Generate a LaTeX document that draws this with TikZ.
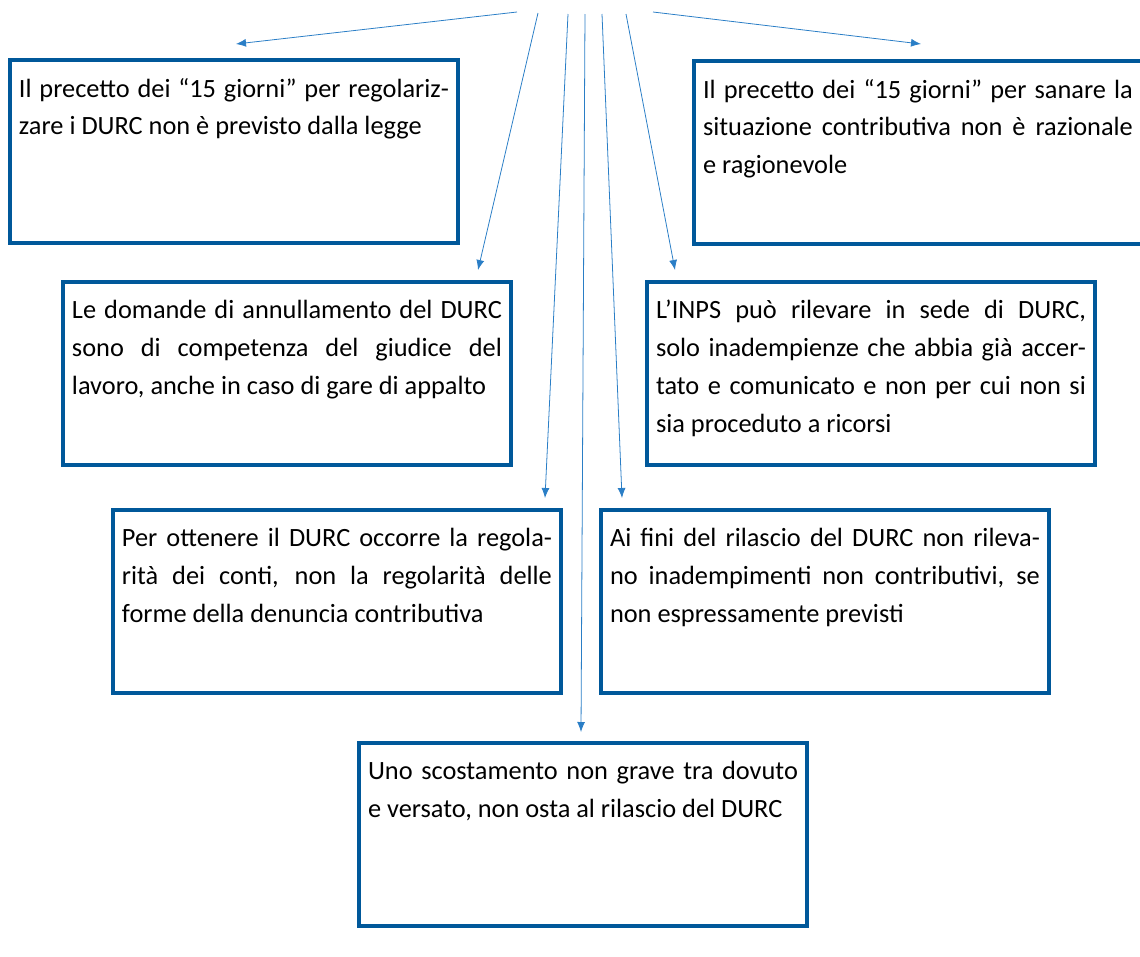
\documentclass[tikz,border=0pt]{standalone}
\usepackage{fontspec}
\setmainfont{Carlito}
\usepackage{tikz}
\usetikzlibrary{arrows.meta, positioning}

\definecolor{boxblue}{HTML}{00589A}
\definecolor{linkblue}{HTML}{2A7EC6}

\newcommand{\boxtext}[1]{\parbox[t][2.94cm][t]{8.6cm}{#1}}

\begin{document}
\begin{tikzpicture}[x=0.02cm, y=-0.02cm, every node/.style={font=\fontsize{15}{21.6}\selectfont},
    box/.style={rectangle, draw=boxblue, line width=0.08cm, outer sep=0pt, anchor=north west,
        minimum width=8.96cm, minimum height=3.66cm, inner xsep=0.18cm, inner ysep=0.36cm},
    link/.style={draw=linkblue, line width=0.45pt, -{Latex[length=0.2cm, width=0.16cm]}}]
    \useasboundingbox (0,0) rectangle (1140,957);
    % rule boxes
    \node[box] (legge) at (10,60) {\boxtext{Il precetto dei “15 giorni” per regolariz-\linebreak
        zare i DURC non è previsto dalla legge}};
    \node[box] (sanare) at (694,61) {\boxtext{Il precetto dei “15 giorni” per sanare la\linebreak
        situazione contributiva non è razionale\linebreak e ragionevole}};
    \node[box] (giudice) at (63,282) {\boxtext{Le domande di annullamento del DURC\linebreak
        sono di competenza del giudice del\linebreak lavoro, anche in caso di gare di appalto}};
    \node[box] (inps) at (647,282) {\boxtext{L’INPS può rilevare in sede di DURC,\linebreak
        solo inadempienze che abbia già accer-\linebreak tato e comunicato e non per cui non si\linebreak
        sia proceduto a ricorsi}};
    \node[box] (conti) at (113,510) {\boxtext{Per ottenere il DURC occorre la regola-\linebreak
        rità dei conti, non la regolarità delle\linebreak forme della denuncia contributiva}};
    \node[box] (fini) at (601,510) {\boxtext{Ai fini del rilascio del DURC non rileva-\linebreak
        no inadempimenti non contributivi, se\linebreak non espressamente previsti}};
    \node[box] (scost) at (359,743) {\boxtext{Uno scostamento non grave tra dovuto\linebreak
        e versato, non osta al rilascio del DURC}};
    % arrow ends
    \coordinate (s1) at (517,12);  \coordinate (e1) at (236,44);
    \coordinate (s2) at (538,13);  \coordinate (e2) at (478,270);
    \coordinate (s3) at (568,14);  \coordinate (e3) at (545,498);
    \coordinate (s4) at (585,14);  \coordinate (e4) at (581,732);
    \coordinate (s5) at (602,14);  \coordinate (e5) at (622,498);
    \coordinate (s6) at (626,14);  \coordinate (e6) at (675,270);
    \coordinate (s7) at (653,12);  \coordinate (e7) at (921,44);
    \draw[link] (s1) -- (e1);
    \draw[link] (s2) -- (e2);
    \draw[link] (s3) -- (e3);
    \draw[link] (s4) -- (e4);
    \draw[link] (s5) -- (e5);
    \draw[link] (s6) -- (e6);
    \draw[link] (s7) -- (e7);
\end{tikzpicture}
\end{document}
